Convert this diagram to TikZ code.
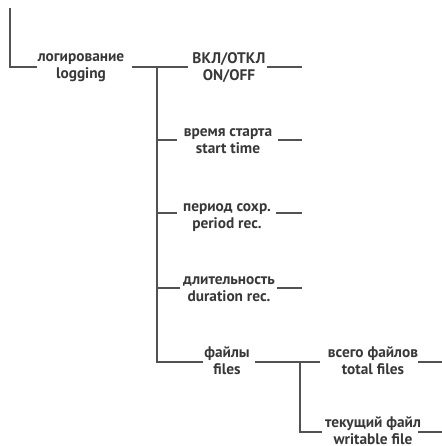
\documentclass[tikz,border=0pt]{standalone}
\usepackage{fontspec}
\setmainfont{PT Sans}
\begin{document}
\begin{tikzpicture}[x=0.75pt,y=-0.75pt,
  lbl/.style={font=\bfseries\fontsize{11.5}{12.75}\selectfont, text=black!78, align=center, inner sep=0pt},
  ln/.style={draw=black!68, line width=1.9pt}]
\useasboundingbox (0,0) rectangle (442,446);
% labels
\node[lbl] (log) at (81,68) {логирование\\logging};
\node[lbl] (on) at (229,68) {ВКЛ/ОТКЛ\\ON/OFF};
\node[lbl] (st) at (228,141) {время старта\\start time};
\node[lbl] (pr) at (227,218) {период сохр.\\period rec.};
\node[lbl] (du) at (229,289) {длительность\\duration rec.};
\node[lbl] (fi) at (227,361) {файлы\\files};
\node[lbl] (tf) at (373,361) {всего файлов\\total files};
\node[lbl] (wf) at (373,431) {текущий файл\\writable file};
% coordinates
\coordinate (top) at (10,8);
\coordinate (c0) at (10,67);
\coordinate (c1) at (37,67);
\coordinate (b0) at (132,67);
\coordinate (b1) at (188,67);
\coordinate (v) at (157,67);
\coordinate (o1) at (267,67); \coordinate (o2) at (302,67);
\coordinate (s0) at (157,140); \coordinate (s1) at (177,140);
\coordinate (s2) at (278,140); \coordinate (s3) at (302,140);
\coordinate (p0) at (157,213); \coordinate (p1) at (177,213);
\coordinate (p2) at (276,213); \coordinate (p3) at (302,213);
\coordinate (d0) at (157,288); \coordinate (d1) at (180,288);
\coordinate (d2) at (277,288); \coordinate (d3) at (302,288);
\coordinate (f0) at (157,362); \coordinate (f1) at (203,362);
\coordinate (g0) at (255,362); \coordinate (g1) at (320,362);
\coordinate (gv) at (300,362); \coordinate (gb) at (300,432); \coordinate (gb1) at (322,432);
\coordinate (t2) at (418,362); \coordinate (t3) at (442,362);
\coordinate (w2) at (418,432); \coordinate (w3) at (442,432);
% lines
\draw[ln] (top) -- (c0) -- (c1);
\draw[ln] (b0) -- (b1);
\draw[ln] (v) -- (f0) -- (f1);
\draw[ln] (o1) -- (o2);
\draw[ln] (s0) -- (s1); \draw[ln] (s2) -- (s3);
\draw[ln] (p0) -- (p1); \draw[ln] (p2) -- (p3);
\draw[ln] (d0) -- (d1); \draw[ln] (d2) -- (d3);
\draw[ln] (g0) -- (g1);
\draw[ln] (gv) -- (gb) -- (gb1);
\draw[ln] (t2) -- (t3);
\draw[ln] (w2) -- (w3);
\end{tikzpicture}
\end{document}
